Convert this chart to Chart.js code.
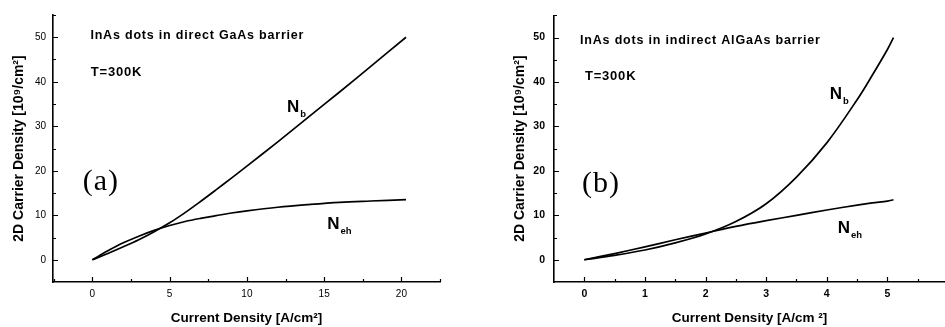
<!DOCTYPE html>
<html><head><meta charset="utf-8">
<script src="https://cdn.jsdelivr.net/npm/chart.js@4/dist/chart.umd.min.js"></script>
<style>
html,body{margin:0;padding:0;background:#fff;}
#wrap{position:relative;width:945px;height:327px;overflow:hidden;background:#fff;}
canvas{position:absolute;top:0;}
#ca{left:0;}
#cb{left:472px;}
</style></head><body>
<div id="wrap">
<canvas id="ca" width="472" height="327"></canvas>
<canvas id="cb" width="473" height="327"></canvas>
</div>
<script>
// ---- Panel (a): InAs dots in direct GaAs barrier ----
const currentA = [0, 1, 2, 3, 4, 5, 6, 7, 8, 9, 10, 12, 14, 16, 18, 20.3];
const nbA      = [0, 1.4, 2.9, 4.5, 6.3, 8.3, 10.6, 13.1, 15.7, 18.35, 21.05, 26.5, 32.1, 37.7, 43.4, 50];
const nehA     = [0, 2.0, 3.8, 5.3, 6.6, 7.7, 8.6, 9.3, 9.9, 10.5, 11.0, 11.8, 12.4, 12.9, 13.2, 13.5];
const xTicksA  = [0, 5, 10, 15, 20];
const xMinorA  = [-2.5, 2.5, 7.5, 12.5, 17.5, 22.5];

// ---- Panel (b): InAs dots in indirect AlGaAs barrier ----
const currentB = [0, 0.5, 1, 1.5, 2, 2.5, 3, 3.5, 4, 4.5, 4.75, 5, 5.1];
const nbB      = [0, 1.0, 2.2, 3.8, 5.8, 8.6, 12.6, 18.6, 26.3, 36.0, 41.5, 47.3, 50];
const nehB     = [0, 1.4, 2.9, 4.5, 6.0, 7.5, 8.8, 10.0, 11.2, 12.3, 12.8, 13.2, 13.5];
const xTicksB  = [0, 1, 2, 3, 4, 5];
const xMinorB  = [0.5, 1.5, 2.5, 3.5, 4.5, 5.5];

const yTicks   = [0, 10, 20, 30, 40, 50];
const yMinor   = [-5, 5, 15, 25, 35, 45, 55];

const FONT = "'Liberation Sans', Arial, sans-serif";

const inTicks = {
  id: 'inTicks',
  afterDraw(chart, args, o) {
    const ctx = chart.ctx, xs = chart.scales.x, ys = chart.scales.y, a = chart.chartArea;
    ctx.save();
    ctx.strokeStyle = '#000';
    ctx.lineWidth = 1.2;
    ctx.beginPath();
    const xt = (vals, len) => vals.forEach(v => {
      const p = Math.round(xs.getPixelForValue(v)) + 0.5;
      if (p < a.left || p > a.right + 1) return;
      ctx.moveTo(p, a.bottom); ctx.lineTo(p, a.bottom - len);
    });
    const yt = (vals, len) => vals.forEach(v => {
      const p = Math.round(ys.getPixelForValue(v)) + 0.5;
      if (p < a.top - 1 || p > a.bottom) return;
      ctx.moveTo(a.left, p); ctx.lineTo(a.left + len, p);
    });
    xt(o.xMajor, 5); xt(o.xMinor, 3);
    yt(o.yMajor, 5); yt(o.yMinor, 3);
    ctx.stroke();
    ctx.fillStyle = '#000';
    ctx.textBaseline = 'middle';
    ctx.textAlign = 'left';
    (o.notes || []).forEach(n => {
      const px = xs.getPixelForValue(n.x), py = ys.getPixelForValue(n.y);
      ctx.font = n.font;
      ctx.letterSpacing = (n.ls || 0) + 'px';
      ctx.fillText(n.text, px, py);
      if (n.sub) {
        const w = ctx.measureText(n.text).width;
        ctx.font = n.subFont;
        ctx.letterSpacing = '0px';
        ctx.fillText(n.sub, px + w + 1, py + n.subDy);
      }
      ctx.letterSpacing = '0px';
    });
    ctx.restore();
  }
};

function makeChart(id, xs, nb, neh, cfg) {
  const mk = (data) => xs.map((x, i) => ({x: x, y: data[i]}));
  return new Chart(document.getElementById(id), {
    type: 'line',
    data: {
      datasets: [
        {label: 'Nb', data: mk(nb), borderColor: '#000', borderWidth: 1.7, pointRadius: 0, tension: 0.35, fill: false},
        {label: 'Neh', data: mk(neh), borderColor: '#000', borderWidth: 1.7, pointRadius: 0, tension: 0.35, fill: false}
      ]
    },
    options: {
      responsive: false,
      animation: false,
      layout: {padding: {left: 0, top: cfg.top, right: cfg.right, bottom: 0}},
      plugins: {
        legend: {display: false},
        tooltip: {enabled: false},
        inTicks: {xMajor: cfg.xTicks, xMinor: cfg.xMinor, yMajor: yTicks, yMinor: yMinor, notes: cfg.notes}
      },
      scales: {
        x: {
          type: 'linear', min: cfg.xMin, max: cfg.xMax,
          afterBuildTicks: s => { s.ticks = cfg.xTicks.map(v => ({value: v})); },
          afterFit: s => { s.height = 45; },
          grid: {display: true, drawOnChartArea: false, drawTicks: false},
          border: {display: true, color: '#000', width: 1.6},
          ticks: {color: '#000', padding: 6, maxRotation: 0, autoSkip: false,
                  font: {family: FONT, size: cfg.tickSize, weight: cfg.tickWeight}},
          title: {display: true, text: cfg.xTitle, color: '#000', padding: {top: 0, bottom: 1},
                  font: {family: FONT, size: 13.5, weight: 'bold'}}
        },
        y: {
          type: 'linear', min: -5, max: 55,
          afterBuildTicks: s => { s.ticks = yTicks.map(v => ({value: v})); },
          afterFit: s => { s.width = cfg.yWidth; },
          grid: {display: true, drawOnChartArea: false, drawTicks: false},
          border: {display: true, color: '#000', width: 1.6},
          ticks: {color: '#000', padding: cfg.yPad, autoSkip: false,
                  font: {family: FONT, size: cfg.tickSize, weight: cfg.tickWeight}},
          title: {display: true, text: '2D Carrier Density [10\u2079/cm\u00B2]', color: '#000',
                  padding: {top: cfg.yTitlePad, bottom: 0},
                  font: {family: FONT, size: 14, weight: 'bold'}}
        }
      }
    },
    plugins: [inTicks]
  });
}

const titleFont = "bold 12.5px " + FONT;
const tFont = "bold 13px " + FONT;
const letterFont = "30px 'Liberation Serif', 'Times New Roman', serif";
const nFont = "bold 17px " + FONT;
const subFont = "bold 9.5px " + FONT;

makeChart('ca', currentA, nbA, nehA, {
  top: 15, right: 32, yWidth: 53, yPad: 7, yTitlePad: 11,
  xMin: -2.55, xMax: 22.5, xTicks: xTicksA, xMinor: xMinorA,
  tickSize: 10, tickWeight: 'normal',
  xTitle: 'Current Density [A/cm\u00B2]',
  notes: [
    {text: 'InAs dots in direct GaAs barrier', x: -0.13, y: 50.4, font: titleFont, ls: 0.8},
    {text: 'T=300K', x: -0.1, y: 42.2, font: tFont, ls: 0.8},
    {text: '(a)', x: -0.63, y: 17.5, font: letterFont, ls: 1},
    {text: 'N', sub: 'b', x: 12.6, y: 34.2, font: nFont, subFont: subFont, subDy: 7},
    {text: 'N', sub: 'eh', x: 15.2, y: 8.0, font: nFont, subFont: subFont, subDy: 7}
  ]
});

makeChart('cb', currentB, nbB, nehB, {
  top: 10, right: 0, yWidth: 82, yPad: 9, yTitlePad: 40,
  xMin: -0.5, xMax: 5.95, xTicks: xTicksB, xMinor: xMinorB,
  tickSize: 10.5, tickWeight: 'bold',
  xTitle: 'Current Density [A/cm \u00B2]',
  notes: [
    {text: 'InAs dots in indirect AlGaAs barrier', x: -0.07, y: 49.4, font: titleFont, ls: 0.8},
    {text: 'T=300K', x: 0.01, y: 41.3, font: tFont, ls: 0.8},
    {text: '(b)', x: -0.04, y: 17, font: letterFont, ls: 1},
    {text: 'N', sub: 'b', x: 4.05, y: 37.2, font: nFont, subFont: subFont, subDy: 7},
    {text: 'N', sub: 'eh', x: 4.18, y: 7.0, font: nFont, subFont: subFont, subDy: 7}
  ]
});
</script>
</body></html>
